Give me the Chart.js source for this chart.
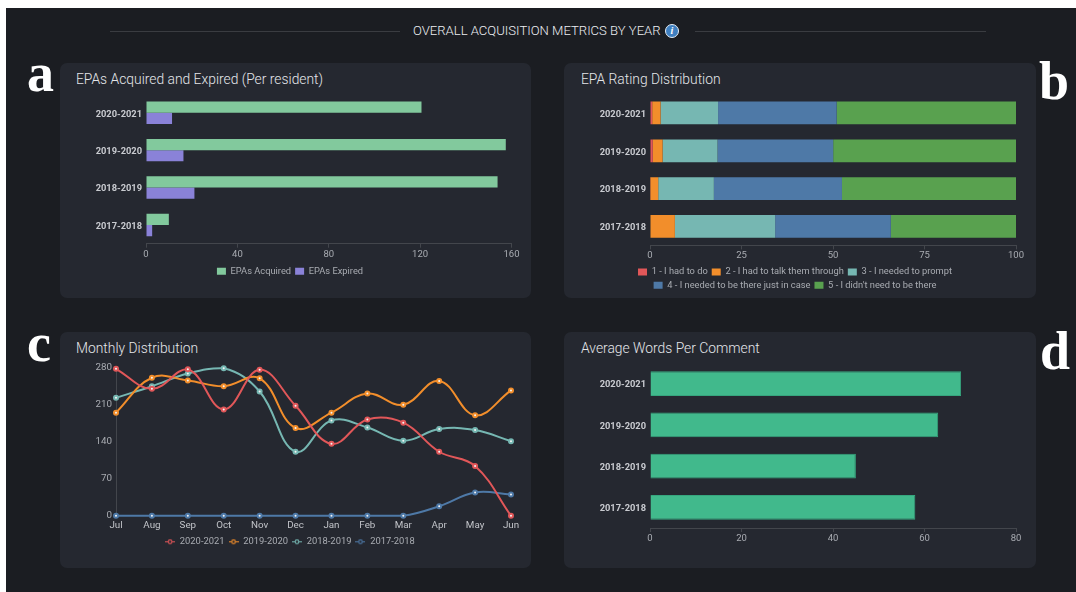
<!DOCTYPE html>
<html><head><meta charset="utf-8">
<script src="https://cdn.jsdelivr.net/npm/chart.js@4"></script>
<style>
html,body{margin:0;padding:0;background:#fff;width:1076px;height:592px;overflow:hidden}
#bg{position:absolute;left:6px;top:8px;width:1070px;height:584px;background:#1b1d22}
.card{position:absolute;background:#252830;border-radius:7px}
.t{position:absolute;font:300 13.85px Roboto,sans-serif;color:#e4e6ea;white-space:nowrap}
.l{position:absolute;font:bold 54px "Liberation Serif",serif;color:#fff;line-height:54px}
.rule{position:absolute;height:1px;background:#3a3c41;top:31px}
canvas{position:absolute}
#head{position:absolute;left:413px;top:23px;font:300 13.1px Roboto,sans-serif;color:#eceef2;white-space:nowrap;line-height:16px}
#info{position:absolute;left:665px;top:24px;width:12px;height:12px;border:1px solid #e6eef6;border-radius:50%;background:#3f7fc0;color:#fff;font:italic bold 10px/12px "Liberation Serif",serif;text-align:center}
</style></head><body>
<div id="bg"></div>
<div class="rule" style="left:110px;width:290px"></div>
<div class="rule" style="left:695px;width:291px"></div>
<div id="head">OVERALL ACQUISITION METRICS BY YEAR</div><div id="info">i</div>
<div class="card" style="left:60px;top:63px;width:471px;height:235px"></div>
<div class="card" style="left:564px;top:63px;width:472px;height:235px"></div>
<div class="card" style="left:60px;top:332px;width:471px;height:236px"></div>
<div class="card" style="left:564px;top:332px;width:472px;height:236px"></div>
<div class="t" style="left:76px;top:71px">EPAs Acquired and Expired (Per resident)</div>
<div class="t" style="left:581px;top:71px">EPA Rating Distribution</div>
<div class="t" style="left:76px;top:340px">Monthly Distribution</div>
<div class="t" style="left:581px;top:340px">Average Words Per Comment</div>
<div class="l" style="left:27px;top:46px">a</div>
<div class="l" style="left:1039px;top:54px">b</div>
<div class="l" style="left:27px;top:316px">c</div>
<div class="l" style="left:1040px;top:324px">d</div>
<canvas id="ca" width="460" height="235" style="left:60px;top:63px"></canvas>
<canvas id="cb" width="462" height="243" style="left:564px;top:63px"></canvas>
<canvas id="cc" width="460" height="236" style="left:60px;top:332px"></canvas>
<canvas id="cd" width="462" height="236" style="left:564px;top:332px"></canvas>
<script>
const years = ['2020-2021','2019-2020','2018-2019','2017-2018'];
const months = ['Jul','Aug','Sep','Oct','Nov','Dec','Jan','Feb','Mar','Apr','May','Jun'];
const acquired = [120.6,157.5,153.9,10];
const expired = [11.4,16.4,21.2,2.7];
const rating1 = [0.6,0.75,0.1,0];
const rating2 = [2.3,2.7,2.15,6.8];
const rating3 = [15.7,15,15.2,27.4];
const rating4 = [32.4,31.6,35,31.6];
const rating5 = [49,49.95,47.55,34.2];
const ratingNames = ['1 - I had to do','2 - I had to talk them through','3 - I needed to prompt','4 - I needed to be there just in case',"5 - I didn't need to be there"];
const monthly2021 = [278,240,277,201,276,208,136,182,176,121,94,0];
const monthly2020 = [195,261,256,245,260,166,195,231,210,255,190,237];
const monthly2019 = [223,245,269,279,235,121,180,167,142,164,162,141];
const monthly2018 = [0,0,0,0,0,0,0,0,0,18,44,40];
const wordsPerComment = [68,63,45,58];

const RED='#e15759',ORANGE='#f28e2b',TEAL='#76b7b2',BLUE='#4e79a7',GREEN='#59a14f';
const FONT='Roboto, sans-serif';
Chart.defaults.font.family=FONT;Chart.defaults.font.size=9.5;Chart.defaults.color='#a9acb2';
Chart.defaults.animation=false;Chart.defaults.responsive=false;
const AXIS='#43464c';

function legendOpts(){return {display:true,position:'bottom',labels:{boxWidth:9,boxHeight:7,padding:4,color:'#a9acb2',font:{size:9.3,family:FONT}}};}
function hScales(max,step,left,xh,stacked){return {
  x:{min:0,max:max,stacked:!!stacked,ticks:{stepSize:step,padding:1,color:'#a9acb2',maxRotation:0,font:{size:9.5}},
     border:{color:AXIS,width:1},grid:{drawOnChartArea:false,drawTicks:true,tickLength:4,color:AXIS},
     afterFit:s=>{s.height=xh;s.paddingLeft=0;s.paddingRight=0;}},
  y:{stacked:!!stacked,ticks:{padding:4,labelOffset:1.5,color:'#c9cbd0',font:{size:9.3,weight:'bold'}},
     border:{display:false},grid:{display:false,drawTicks:false},afterFit:s=>{s.width=left;s.paddingTop=0;s.paddingBottom=0;}}
};}
new Chart(document.getElementById('ca'),{type:'bar',data:{labels:years,datasets:[
  {label:'EPAs Acquired',data:acquired,backgroundColor:'#82c99d',categoryPercentage:0.6,barPercentage:1},
  {label:'EPAs Expired',data:expired,backgroundColor:'#8a82d8',categoryPercentage:0.6,barPercentage:1}]},
  options:{indexAxis:'y',layout:{padding:{top:31,right:8.5,bottom:12,left:8.5}},scales:hScales(160,40,77.5,19),plugins:{legend:legendOpts(),tooltip:{enabled:false}}}});
const ratingVals=[rating1,rating2,rating3,rating4,rating5],ratingCols=[RED,ORANGE,TEAL,BLUE,GREEN];
new Chart(document.getElementById('cb'),{type:'bar',data:{labels:years,datasets:ratingNames.map((n,i)=>({label:n,data:ratingVals[i],backgroundColor:ratingCols[i],categoryPercentage:0.6,barPercentage:1}))},
  options:{indexAxis:'y',layout:{padding:{top:31,right:10,bottom:6,left:10}},scales:hScales(100,25,76,18,true),plugins:{legend:legendOpts(),tooltip:{enabled:false}}}});
function icon(c){const k=document.createElement('canvas');k.width=10;k.height=7;const g=k.getContext('2d');
  g.strokeStyle=c;g.lineWidth=1;g.beginPath();g.moveTo(0,3.5);g.lineTo(10,3.5);g.stroke();
  g.fillStyle='#252830';g.lineWidth=1.1;g.beginPath();g.arc(5,3.5,1.9,0,7);g.fill();g.stroke();return k;}
const lineSeries=[['2020-2021',monthly2021,RED],['2019-2020',monthly2020,ORANGE],['2018-2019',monthly2019,TEAL],['2017-2018',monthly2018,BLUE]];
new Chart(document.getElementById('cc'),{type:'line',data:{labels:months,datasets:lineSeries.map(s=>({label:s[0],data:s[1],borderColor:s[2],backgroundColor:s[2],
   borderWidth:2,tension:0.4,clip:false,pointRadius:2,pointBorderWidth:2,pointBorderColor:s[2],pointBackgroundColor:'#f4f4f4'}))},
  options:{layout:{padding:{top:35.7,right:9,bottom:11.5,left:9}},scales:{
    x:{offset:false,ticks:{padding:4,color:'#c2c4c9',maxRotation:0,autoSkip:false,font:{size:9.8}},border:{display:false},grid:{display:false,drawTicks:false},afterFit:s=>{s.height=17.4;s.paddingLeft=0;s.paddingRight=0;}},
    y:{min:0,max:280,ticks:{stepSize:70,padding:4,color:'#a9acb2',font:{size:9.8}},border:{color:AXIS,width:1},grid:{drawOnChartArea:false,drawTicks:false},afterFit:s=>{s.width=47;s.paddingTop=0;s.paddingBottom=0;}}
  },plugins:{tooltip:{enabled:false},legend:{display:true,position:'bottom',labels:{usePointStyle:true,pointStyleWidth:10,boxHeight:7,padding:4,color:'#a9acb2',font:{size:9.4,family:FONT},
     generateLabels:ch=>ch.data.datasets.map((d,i)=>({text:d.label,datasetIndex:i,pointStyle:icon(d.borderColor),fontColor:'#a9acb2',lineWidth:0,strokeStyle:'transparent',fillStyle:d.borderColor}))}}}}});
new Chart(document.getElementById('cd'),{type:'bar',data:{labels:years,datasets:[{label:'Average Words',data:wordsPerComment,backgroundColor:'#41b98c',borderColor:'#36a67e',borderWidth:1,categoryPercentage:0.6,barPercentage:1}]},
  options:{indexAxis:'y',layout:{padding:{top:31,right:10,bottom:24,left:0}},scales:hScales(80,20,86,16),plugins:{legend:{display:false},tooltip:{enabled:false}}}});
</script></body></html>
